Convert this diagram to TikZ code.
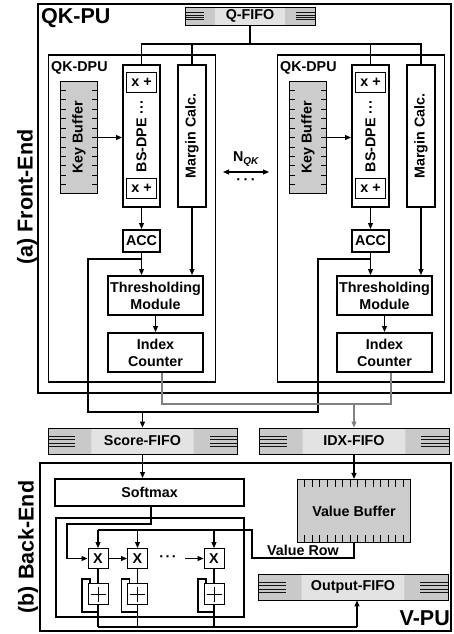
\documentclass[tikz,border=0pt]{standalone}
\usepackage{fontspec}
\setmainfont{Liberation Sans}
\usetikzlibrary{calc, arrows.meta}

\tikzset{
  fifoline/.style={gray!15!black, line width=0.7pt},
  fifo/.style={draw, line width=0.9pt, fill=gray!22, minimum height=26,
    path picture={
      \fill[gray!42] let \p1=(path picture bounding box.north west), \p2=(path picture bounding box.south east) in
        (\x1,\y1) rectangle ({\x1+0.23*(\x2-\x1)},\y2)
        (\x2,\y1) rectangle ({\x2-0.23*(\x2-\x1)},\y2);
      \foreach \fr in {0.32,0.45,0.58,0.71}
        \draw[fifoline] let \p1=(path picture bounding box.north west), \p2=(path picture bounding box.south east) in
          (\x1,{\y1+\fr*(\y2-\y1)}) -- ({\x1+0.145*(\x2-\x1)},{\y1+\fr*(\y2-\y1)})
          (\x2,{\y1+\fr*(\y2-\y1)}) -- ({\x2-0.145*(\x2-\x1)},{\y1+\fr*(\y2-\y1)});
    }},
}

\begin{document}
\begin{tikzpicture}[x=1pt, y=-1pt,
  >={Triangle[length=6pt, width=5pt]},
  every node/.style={font=\bfseries\fontsize{14.3}{17}\selectfont, inner sep=0pt},
  ttl/.style={font=\bfseries\fontsize{21.5}{22}\selectfont},
  frame/.style={line width=2.4pt},
  dpuframe/.style={line width=1.8pt},
  line/.style={line width=1.1pt},
  arr/.style={->, line width=1.1pt},
  gline/.style={line width=1.1pt, black!50},
  garr/.style={->, line width=1.1pt, black!50},
  unit/.style={draw, line width=2.2pt, align=center},
  buf/.style={draw, line width=1.2pt, fill=gray!40},
  tick/.style={line width=0.8pt},
  xpbox/.style={draw, line width=1pt, minimum width=30, minimum height=20},
  op/.style={draw, line width=1pt, fill=white, minimum width=20, minimum height=20},
  plus/.style={op, minimum height=21, path picture={
      \draw[line width=1pt] ([xshift=-7.5pt]path picture bounding box.center) -- ([xshift=7.5pt]path picture bounding box.center)
        ([yshift=-7.5pt]path picture bounding box.center) -- ([yshift=7.5pt]path picture bounding box.center);}}
]
  \useasboundingbox (0,0) rectangle (454,634);

  % --- Front-End: QK-PU ---
  \draw[frame] (38,4) rectangle (451,393);
  \node[ttl, anchor=base west] (qkpu-lbl) at (41,24) {QK-PU};
  \node[ttl, rotate=90] (fe-lbl) at (27,197) {(a) Front-End};
  \node[fifo, minimum width=130, minimum height=18] (qf) at (250,16) {Q-FIFO};

  % --- two QK-DPUs ---
  \foreach \o/\s in {0/l, 229/r} {
    \draw[dpuframe] ({\o+48.5},55) rectangle ({\o+215.5},382);
    \node[anchor=base west] (dpu-lbl-\s) at ({\o+51},71) {QK-DPU};
    \node[buf, minimum width=36.8, minimum height=111.8] (kb-\s) at ({\o+79},137.5) {\rotatebox{90}{Key Buffer}};
    \node[unit, minimum width=36.8, minimum height=141.8] (bs-\s) at ({\o+141.5},136) {\rotatebox{90}{BS-DPE ···}};
    \node[xpbox] (xp1-\s) at ({\o+141.5},82.5) {x +};
    \node[xpbox] (xp2-\s) at ({\o+141.5},188.5) {x +};
    \node[unit, minimum width=27.8, minimum height=141.8] (mc-\s) at ({\o+192},136) {\rotatebox{90}{Margin Calc.}};
    \node[unit, minimum width=36.8, minimum height=21.8] (acc-\s) at ({\o+141.5},241) {ACC};
    \node[unit, minimum width=94.8, minimum height=38.8] (thr-\s) at ({\o+155.5},295.5) {Thresholding\\Module};
    \node[unit, minimum width=94.8, minimum height=38.8] (idx-\s) at ({\o+155.5},352.5) {Index\\Counter};
    \foreach \t in {1,...,11} {
      \draw[tick] ($(kb-\s.north west)!\t/12!(kb-\s.south west)$) -- ++(6,0);
      \draw[tick] ($(kb-\s.north east)!\t/12!(kb-\s.south east)$) -- ++(-6,0);
    }
    \coordinate (accb-\s) at ($(acc-\s.south)+(0,6)$);
    \draw[arr] (kb-\s.east) -- (kb-\s.east -| bs-\s.west);
    \draw[arr] (bs-\s.south) -- (acc-\s.north);
    \draw[arr] (acc-\s.south) -- (thr-\s.north -| acc-\s.south);
    \draw[arr] (mc-\s.south) -- (thr-\s.north -| mc-\s.south);
    \draw[arr] (thr-\s.south) -- (idx-\s.north);
  }

  % --- Q-FIFO bus ---
  \coordinate (qb) at (250,44);
  \draw[line] (qf.south) -- (qb);
  \draw[line] (bs-l.north) |- (mc-r.north |- qb) -- (mc-r.north);
  \draw[line] (mc-l.north) -- (mc-l.north |- qb);
  \draw[line] (bs-r.north) -- (bs-r.north |- qb);

  % --- N_QK ---
  \coordinate (nqw) at (223,172);
  \coordinate (nqe) at (269,172);
  \draw[<->, line width=1.1pt] (nqw) -- (nqe);
  \node (nqk) at (246,159) {N\textsubscript{\itshape QK}};
  \node (nqdots) at (246,182) {·\kern2.5pt·\kern2.5pt·};

  % --- FIFOs between the ends ---
  \node[fifo, minimum width=189] (sf) at (142.5,441) {Score-FIFO};
  \node[fifo, minimum width=190] (idxf) at (354,441) {IDX-FIFO};

  % score bus (ACC outputs)
  \coordinate (sbw) at (88,412);
  \coordinate (sbe) at (318,412);
  \draw[line] (accb-l) -| (sbw) -- (sbe) |- (accb-r);
  \draw[arr] (sf.north |- sbw) -- (sf.north);

  % index bus
  \coordinate (ib) at (354,404);
  \draw[gline] ([xshift=6.5pt]idx-l.south) |- ([xshift=6.5pt]idx-r.south |- ib) -- ([xshift=6.5pt]idx-r.south);
  \draw[garr] (idxf.north |- ib) -- (idxf.north);

  % --- Back-End: V-PU ---
  \draw[frame] (40,463) rectangle (451,631);
  \node[ttl, anchor=base east] (vpu-lbl) at (450,625) {V-PU};
  \node[ttl, rotate=90] (be-lbl) at (28,547) {(b) Back-End};
  \node[unit, minimum width=188.8, minimum height=26.8] (sm) at (149.5,492.5) {Softmax};
  \node[draw, line width=2.2pt, minimum width=187.8, minimum height=98.8] (pe) at (150,567.5) {};
  \node[buf, minimum width=113, minimum height=63] (vb) at (354,511) {Value Buffer};
  \node[fifo, minimum width=190] (of) at (353,587) {Output-FIFO};
  \foreach \t in {1,...,14} {
    \draw[tick] ($(vb.north west)!\t/15!(vb.north east)$) -- ++(0,8);
    \draw[tick] ($(vb.south west)!\t/15!(vb.south east)$) -- ++(0,-8);
  }

  % PE row
  \node[op] (x1) at (98,558.5) {X};
  \node[op] (x2) at (137.5,558.5) {X};
  \node[op] (x3) at (214,558.5) {X};
  \node[plus] (p1) at (98,594) {};
  \node[plus] (p2) at (137.5,594) {};
  \node[plus] (p3) at (214,594) {};
  \node (xdots) at (168,558.5) {·\kern1.5pt·\kern1.5pt·};
  \coordinate (x3in) at (185,558.5);

  \draw[arr] (sf.south) -- (sf.south |- sm.north);
  \draw[arr] (idxf.south) -- (vb.north);
  \coordinate (smk) at (67,524);
  \draw[arr] ([xshift=1.5pt]sm.south) |- (smk) |- (x1.west);
  \draw[arr] (x1.east) -- (x2.west);
  \draw[arr] (x3in) -- (x3.west);

  \coordinate (vr) at (252,558);
  \coordinate (vbus) at (252,530);
  \draw[line] (vb.south) |- (vr) node[pos=0.75, above=1.5pt] (vr-lbl) {Value Row} -- (vbus) -- (vbus -| x1.north);

  \coordinate (obus) at (357,627);
  \foreach \i in {1,2,3} {
    \draw[arr] (vbus -| x\i.north) -- (x\i.north);
    \draw[line] (x\i.south) -- (p\i.north);
    \draw[line] (p\i.south) -- (p\i.south |- obus);
    \draw[line] ($(p\i.south)+(0,7)$) -- ++(-16,0) -- ++(0,-33) -- ++(8,0) -- ++(0,4);
  }
  \draw[line] (p1.south |- obus) -- (obus);
  \draw[arr] (obus) -- (obus |- of.south);
\end{tikzpicture}
\end{document}
